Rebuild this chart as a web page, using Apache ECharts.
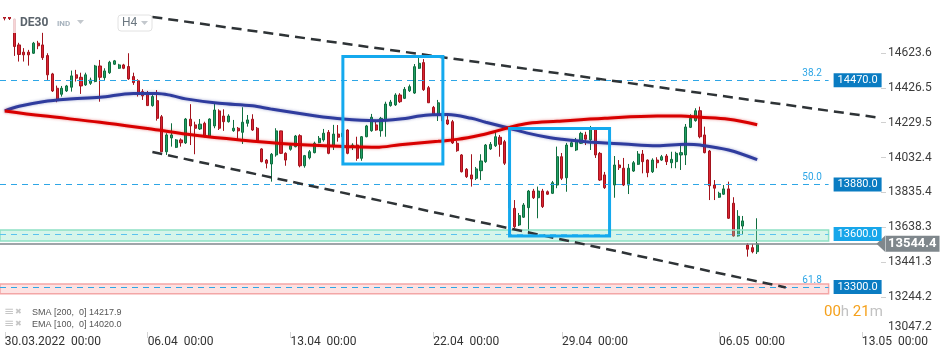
<!DOCTYPE html>
<html><head><meta charset="utf-8">
<script src="https://cdn.jsdelivr.net/npm/echarts@6/dist/echarts.min.js"></script>
<style>html,body{margin:0;padding:0;background:#fff}#c{width:949px;height:358px}</style>
</head><body><div id="c"></div>
<script>
// ---- data (H4 candles, DE30) ----
const openP = [14870,14835,14815,14669,14628,14628,14622,14679,14669,14609,
14505,14424,14390,14409,14430,14500,14486,14443,14452,14462,
14550,14484,14512,14560,14537,14556,14547,14490,14466,14405,
14399,14326,14354,14263,14065,14143,14090,14132,14115,14249,
14217,14194,14226,14150,14211,14296,14267,14235,14184,14198,
14175,14226,14249,14198,14081,14018,13996,14047,14183,14056,
14079,14094,14156,13986,14031,14060,14116,14132,14175,14098,
14165,14150,14188,14090,14103,14028,14150,14184,14217,14184,
14244,14326,14330,14386,14367,14410,14397,14537,14569,14427,
14316,14277,14270,14245,14235,14113,14047,13966,13934,13915,
13958,14009,14081,14099,14147,14122,14002,13745,13651,13695,
13749,13843,13805,13843,13839,13830,13877,14037,13918,14094,
14075,14113,14160,14132,14199,14056,13934,13880,13877,13990,
13972,13877,13956,13994,14052,14018,13952,14018,14018,14041,
14003,14009,14047,14047,14203,14241,14297,14160,14069,13877,
13808,13825,13855,13774,13589,13645,13538,13523,13500];
const highP = [14895,14860,14818,14681,14651,14641,14686,14692,14741,14622,
14511,14439,14437,14443,14524,14528,14512,14512,14484,14556,
14584,14537,14579,14584,14562,14562,14622,14512,14475,14419,
14409,14390,14414,14273,14170,14226,14137,14141,14256,14334,
14235,14250,14235,14254,14339,14305,14305,14277,14245,14205,
14317,14273,14277,14205,14085,14024,14058,14198,14184,14062,
14109,14160,14164,14047,14075,14122,14154,14194,14188,14217,
14216,14185,14192,14113,14150,14154,14217,14279,14245,14262,
14348,14358,14396,14396,14431,14445,14561,14612,14589,14437,
14324,14358,14290,14282,14245,14126,14052,13973,14051,13979,
14051,14109,14120,14178,14160,14132,14013,13792,13719,13775,
13849,13855,13868,13855,13846,13900,14094,14058,14115,14126,
14143,14178,14178,14211,14205,14064,13951,13910,14041,14018,
14030,13996,14013,14069,14075,14022,14028,14034,14047,14052,
14065,14065,14113,14222,14277,14311,14320,14207,14075,13905,
13839,13877,13896,13808,13735,13702,13548,13544,13689];
const lowP = [14808,14810,14607,14575,14575,14552,14618,14645,14584,14471,
14403,14345,14377,14403,14405,14462,14392,14437,14443,14458,
14348,14471,14505,14556,14533,14532,14471,14443,14377,14358,
14324,14320,14241,14064,14047,14094,14086,14094,14109,14103,
14051,14188,14147,14147,14198,14188,14183,14230,14178,14128,
14109,14207,14183,14116,14005,13971,13896,14037,14052,13986,
14071,14090,13977,13975,14022,14056,14113,14122,14051,14075,
14122,14135,14051,14075,14014,14014,14147,14178,14184,14150,
14150,14320,14324,14341,14363,14403,14392,14533,14409,14341,
14267,14239,14225,14216,14109,14065,13948,13917,13868,13905,
13905,14002,14075,14092,14037,13990,13725,13632,13645,13691,
13589,13798,13689,13747,13821,13826,13859,13905,13839,14092,
14069,14109,14103,14075,14030,13900,13855,13870,13805,13962,
13871,13826,13951,13990,13943,13921,13945,13972,14013,13990,
13972,13972,13962,13990,14199,14235,14141,14056,13792,13792,
13804,13821,13685,13585,13585,13600,13472,13491,13487];
const closeP = [14820,14818,14660,14615,14613,14613,14679,14664,14597,14500,
14409,14358,14424,14437,14494,14481,14437,14500,14471,14550,
14486,14522,14571,14579,14556,14537,14477,14456,14399,14381,
14326,14377,14254,14065,14160,14160,14132,14116,14250,14211,
14198,14221,14150,14250,14301,14198,14235,14267,14198,14183,
14232,14245,14188,14122,14009,14000,14051,14183,14056,14018,
14099,14154,13986,14043,14065,14113,14141,14170,14056,14165,
14147,14170,14056,14103,14028,14150,14211,14260,14188,14254,
14335,14346,14386,14348,14418,14433,14546,14565,14416,14342,
14273,14342,14240,14222,14115,14071,13952,13924,13911,13968,
14013,14103,14107,14150,14107,14000,13747,13641,13704,13764,
13843,13805,13843,13755,13825,13890,14037,13915,14103,14116,
14126,14169,14136,14199,14047,13905,13862,13895,13990,13975,
13877,13972,14003,14052,14009,13947,14018,14003,14037,14009,
14022,14056,14060,14205,14254,14297,14150,14060,13873,13859,
13830,13855,13689,13589,13700,13674,13514,13500,13544];

// moving averages read at sample candles: [candle index], [value]
const smaIdx = [0,8,20,30,40,50,58,66,72,78,83,91,95,100,103,106,110,116,126,137,142,146,152,158];
const smaVal = [14296,14268,14232,14196,14158,14130,14112,14100,14094,14090,14105,14124,14135,14160,14180,14203,14226,14237,14254,14267,14267,14260,14249,14218];
const emaIdx = [0,3,8,13,20,27,32,35,38,45,52,56,65,71,78,83,89,93,98,101,106,110,114,117,122,130,137,143,146,152,158];
const emaVal = [14296,14322,14348,14362,14373,14395,14395,14383,14364,14339,14325,14306,14269,14250,14241,14250,14273,14275,14254,14232,14198,14169,14147,14136,14122,14109,14099,14107,14103,14075,14020];

// axis ticks
const xTickIdx = [0,30,60,90,117,150,180];
const xTickText = ['30.03.2022  00:00','06.04  00:00','13.04  00:00','22.04  00:00','29.04  00:00','06.05  00:00','13.05  00:00'];
const yTicks = [13047.2,13244.2,13441.3,13638.3,13835.4,14032.4,14229.5,14426.5,14623.6];
const totalSlots = 185; // candle slots incl. future space

// levels / annotations (values)
const levels = [14470.0, 13880.0, 13600.0, 13300.0];
const fibs = ['38.2','50.0','','61.8'];
const lastPrice = 13544.4;
const smaLast = 14217.9, emaLast = 14020.0;
const zoneGreen = [13623, 13561];
const zoneRed = [13318, 13262];
const channelUpper = [[31,14827],[184,14256]];
const channelLower = [[31,14064],[164,13298]];
const box1 = [[71,14604],[92,13996]];
const box2 = [[106,14197],[127,13589]];

// ---- chart ----
const F = 'Roboto, "Liberation Sans", sans-serif';
const c = i => i + 1; // candle index -> category index
const cats = Array.from({length: totalSlots + 1}, (_, k) => {
  const j = xTickIdx.indexOf(k - 1);
  return j >= 0 ? xTickText[j] : '';
});
const candles = openP.map((o, i) => [c(i), o, closeP[i], lowP[i], highP[i]]);
const sma = smaIdx.map((ix, k) => [c(ix), smaVal[k]]);
const ema = emaIdx.map((ix, k) => [c(ix), emaVal[k]]);
const lineEnd = 174;
const levelBg = ['#0a7cc2', '#0a7cc2', '#17a6ea', '#0a7cc2'];

const mlData = [];
levels.forEach((L, k) => {
  mlData.push([{coord: [0, L], lineStyle: {color: k === 2 ? '#5cc2ee' : '#2ea6e6', type: [6, 5], width: 1},
    label: {show: true, position: 'end', distance: 5, formatter: L.toFixed(1), color: '#fff',
      backgroundColor: levelBg[k], padding: [2, 4, 1, 4], fontSize: 11, fontFamily: F}}, {coord: [lineEnd, L]}]);
  if (fibs[k]) mlData.push([{coord: [0, L], lineStyle: {color: 'rgba(0,0,0,0)', width: 1},
    label: {show: true, position: 'insideEndTop', distance: 2, formatter: fibs[k], color: '#2ea6e6', fontSize: 10, fontFamily: F}},
    {coord: [lineEnd - 1, L]}]);
});
mlData.push([{coord: [0, lastPrice], lineStyle: {color: '#7f878c', width: 1.5, type: 'solid'},
  label: {show: true, position: 'end', distance: 5, formatter: lastPrice.toFixed(1), color: '#fff',
    backgroundColor: '#7f878c', padding: [2, 3, 1, 2], fontSize: 13, fontWeight: 'bold', fontFamily: F}},
  {coord: [totalSlots, lastPrice]}]);
[channelUpper, channelLower].forEach(ch => {
  mlData.push([{coord: [c(ch[0][0]), ch[0][1]], lineStyle: {color: '#2e3336', width: 2.5, type: [10, 6]}, label: {show: false}},
    {coord: [c(ch[1][0]), ch[1][1]]}]);
});

const chart = echarts.init(document.getElementById('c'));
chart.setOption({
  animation: false,
  backgroundColor: '#fff',
  grid: {left: 0, right: 68, top: 0, bottom: 26, containLabel: false, outerBoundsMode: 'none'},
  xAxis: {
    type: 'category', data: cats, boundaryGap: false,
    axisLine: {show: false},
    axisTick: {show: true, interval: (i, v) => v !== '', length: 6, lineStyle: {color: '#d4d4d4'}},
    axisLabel: {interval: (i, v) => v !== '', align: 'left', margin: 4, fontSize: 12, color: '#333', fontFamily: F},
    splitLine: {show: false}
  },
  yAxis: {
    type: 'value', position: 'right', min: 13046, max: 14923, scale: true,
    axisLine: {show: false},
    splitLine: {show: false},
    axisTick: {show: true, customValues: yTicks.slice(1), length: 5, lineStyle: {color: '#d0d0d0'}},
    axisLabel: {customValues: yTicks, margin: 7, fontSize: 12, color: '#3c3c3c', fontFamily: F,
      formatter: v => Math.abs(v - yTicks[0]) < 0.01 ? '{low|' + v.toFixed(1) + '}' : v.toFixed(1),
      rich: {low: {padding: [0, 0, 10, 0], fontSize: 12, color: '#3c3c3c', fontFamily: F}}}
  },
  series: [
    {
      type: 'candlestick', data: candles, encode: {x: 0, y: [1, 2, 3, 4]},
      barWidth: 2.6, z: 2,
      itemStyle: {color: '#22a066', borderColor: '#0f6e3f', color0: '#dc2431', borderColor0: '#a3131d', borderWidth: 1},
      markArea: {silent: true, z: 3, data: [
        [{yAxis: zoneGreen[0], xAxis: 0, itemStyle: {color: 'rgba(130,225,192,0.33)', borderColor: '#8fe1c5', borderWidth: 1.5}}, {yAxis: zoneGreen[1], xAxis: lineEnd}],
        [{yAxis: zoneRed[0], xAxis: 0, itemStyle: {color: 'rgba(250,185,185,0.42)', borderColor: '#f3a6a6', borderWidth: 1.5}}, {yAxis: zoneRed[1], xAxis: lineEnd}]
      ]},
      markLine: {silent: true, symbol: ['none', 'none'], data: mlData},
      markPoint: {silent: true, data: [{coord: [totalSlots, lastPrice], symbol: 'path://M0,8L9,0L9,16Z', symbolSize: [9, 17],
        itemStyle: {color: '#7f878c'}, label: {show: false}}]}
    },
    {
      type: 'line', name: 'EMA', data: ema, smooth: 0.35, showSymbol: false, z: 4,
      lineStyle: {color: '#2f3c9e', width: 3, shadowColor: 'rgba(47,60,158,0.45)', shadowBlur: 3}
    },
    {
      type: 'line', name: 'SMA', data: sma, smooth: 0.35, showSymbol: false, z: 4,
      lineStyle: {color: '#d80000', width: 3, shadowColor: 'rgba(216,0,0,0.45)', shadowBlur: 3},
      markArea: {silent: true, z: 6, data: [
        [{coord: [c(box1[0][0]), box1[0][1]], itemStyle: {color: 'rgba(0,0,0,0)', borderColor: '#14a9ee', borderWidth: 3}}, {coord: [c(box1[1][0]), box1[1][1]]}],
        [{coord: [c(box2[0][0]), box2[0][1]], itemStyle: {color: 'rgba(0,0,0,0)', borderColor: '#14a9ee', borderWidth: 3}}, {coord: [c(box2[1][0]), box2[1][1]]}]
      ]}
    }
  ],
  graphic: [
    {type: 'rect', z: 100, shape: {x: 0, y: 0, width: 152, height: 17}, style: {fill: '#fff'}},
    {type: 'rect', z: 100, shape: {x: 11, y: 17, width: 141, height: 16}, style: {fill: 'rgba(255,255,255,0.8)'}},
    {type: 'text', z: 101, left: 20, top: 17, style: {text: 'DE30', font: 'bold 12px ' + F, fill: '#5a636b'}},
    {type: 'text', z: 101, left: 57, top: 20, style: {text: 'IND', font: 'bold 8px ' + F, fill: '#a6b2bd'}},
    {type: 'polygon', z: 101, shape: {points: [[77, 20], [84, 20], [80.5, 24]]}, style: {fill: '#c3c8cd'}},
    {type: 'rect', z: 101, shape: {x: 118, y: 15, width: 34, height: 16, r: 3}, style: {fill: '#fff', stroke: '#e2e2e2', lineWidth: 1}},
    {type: 'text', z: 102, left: 122, top: 17, style: {text: 'H4', font: '12px ' + F, fill: '#6b7780'}},
    {type: 'polygon', z: 102, shape: {points: [[141, 21], [148, 21], [144.5, 25]]}, style: {fill: '#c3c8cd'}},
    {type: 'text', z: 101, left: 4, top: 306, style: {text: '\u2261', font: '12px "DejaVu Sans"', fill: '#c6c6c6'}},
    {type: 'text', z: 101, left: 15, top: 308, style: {text: '\u2716', font: '8px "DejaVu Sans"', fill: '#c6c6c6'}},
    {type: 'text', z: 101, left: 32, top: 308, style: {text: 'SMA [200,  0] ' + smaLast.toFixed(1), font: '9px "Liberation Sans"', fill: '#555'}},
    {type: 'text', z: 101, left: 4, top: 318, style: {text: '\u2261', font: '12px "DejaVu Sans"', fill: '#c6c6c6'}},
    {type: 'text', z: 101, left: 15, top: 320, style: {text: '\u2716', font: '8px "DejaVu Sans"', fill: '#c6c6c6'}},
    {type: 'text', z: 101, left: 32, top: 320, style: {text: 'EMA [100,  0] ' + emaLast.toFixed(1), font: '9px "Liberation Sans"', fill: '#555'}},
    {type: 'text', z: 101, left: 824, top: 305, style: {text: '{o|00}{g|h} {o|21}{g|m}', font: '15px ' + F,
      rich: {o: {fill: '#f5a11c', font: '15px ' + F}, g: {fill: '#c2c2c2', font: '15px ' + F}}}}
  ]
});
</script>
</body></html>
